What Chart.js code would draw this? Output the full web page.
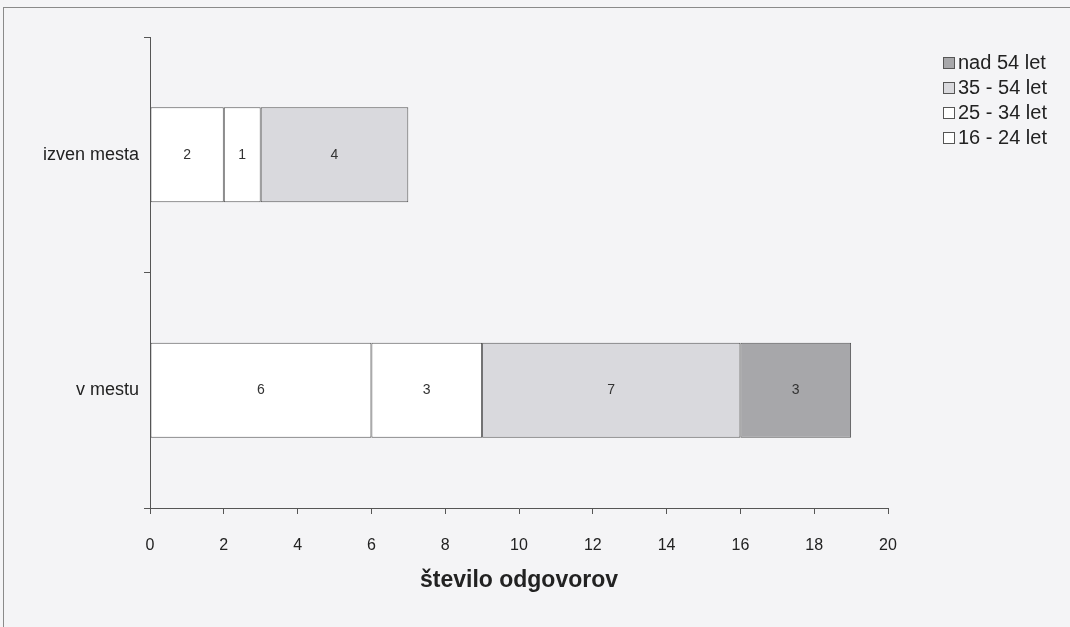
<!DOCTYPE html>
<html lang="sl">
<head>
    <meta charset="UTF-8">
    <title>število odgovorov</title>
    <script src="https://cdn.jsdelivr.net/npm/chart.js"></script>
    <style>
        body {
            margin: 0;
            padding: 0;
            background: #f4f4f6;
            font-family: Arial, "Liberation Sans", sans-serif;
        }
        .frame {
            position: absolute;
            left: 3px;
            top: 7px;
            width: 1067px;
            height: 620px;
            border-top: 1px solid #8a8a8a;
            border-left: 1px solid #8a8a8a;
        }
        .wrap {
            position: absolute;
            left: 0;
            top: 0;
            width: 1070px;
            height: 627px;
        }
    </style>
</head>
<body>
    <div class="frame"></div>
    <div class="wrap"><canvas id="chart" width="1070" height="627"></canvas></div>

    <script>
        // data
        const categories = ["izven mesta", "v mestu"];
        const ageGroups = ["16 - 24 let", "25 - 34 let", "35 - 54 let", "nad 54 let"];
        const age16to24 = [2, 6];
        const age25to34 = [1, 3];
        const age35to54 = [4, 7];
        const ageOver54 = [0, 3];
        const groupColors = ["#ffffff", "#ffffff", "#d9d9dd", "#a7a7aa"];
        const xTicks = [0, 2, 4, 6, 8, 10, 12, 14, 16, 18, 20];

        const seriesValues = [age16to24, age25to34, age35to54, ageOver54];

        // numbers inside each segment
        const barLabels = {
            id: "barLabels",
            afterDatasetsDraw(chart) {
                const ctx = chart.ctx;
                ctx.save();
                ctx.font = "14px Arial";
                ctx.fillStyle = "#333";
                ctx.textAlign = "center";
                ctx.textBaseline = "middle";
                chart.data.datasets.forEach((ds, i) => {
                    chart.getDatasetMeta(i).data.forEach((bar, j) => {
                        const v = ds.data[j];
                        if (!v) return;
                        const c = bar.getCenterPoint();
                        ctx.fillText(String(v), c.x, c.y);
                    });
                });
                ctx.restore();
            }
        };

        // legend in the top right corner, reversed like the original
        const cornerLegend = {
            id: "cornerLegend",
            afterDraw(chart) {
                const ctx = chart.ctx;
                ctx.save();
                ctx.font = "20px Arial";
                ctx.textBaseline = "middle";
                const items = chart.data.datasets.slice().reverse();
                items.forEach((ds, k) => {
                    const y = 62 + k * 25;
                    ctx.fillStyle = ds.backgroundColor;
                    ctx.fillRect(943, y - 5, 11, 11);
                    ctx.strokeStyle = "#555";
                    ctx.lineWidth = 1;
                    ctx.strokeRect(943.5, y - 4.5, 11, 11);
                    ctx.fillStyle = "#222";
                    ctx.fillText(ds.label, 958, y + 1);
                });
                ctx.restore();
            }
        };

        new Chart(document.getElementById("chart").getContext("2d"), {
            type: "bar",
            data: {
                labels: categories,
                datasets: ageGroups.map((name, i) => ({
                    label: name,
                    data: seriesValues[i],
                    backgroundColor: groupColors[i],
                    borderColor: "#555",
                    borderWidth: 1,
                    borderSkipped: false,
                    categoryPercentage: 1,
                    barPercentage: 0.404
                }))
            },
            options: {
                indexAxis: "y",
                responsive: false,
                animation: false,
                layout: { padding: { top: 37, right: 182, left: 0, bottom: 0 } },
                plugins: {
                    legend: { display: false },
                    tooltip: { enabled: false }
                },
                scales: {
                    x: {
                        stacked: true,
                        min: 0,
                        max: 20,
                        afterBuildTicks: (scale) => {
                            scale.ticks = xTicks.map(v => ({ value: v }));
                        },
                        afterFit: (scale) => { scale.height = 119; },
                        grid: {
                            drawOnChartArea: false,
                            tickLength: 6,
                            color: "#555"
                        },
                        border: { color: "#555", width: 1 },
                        ticks: {
                            padding: 22,
                            color: "#222",
                            font: { family: "Arial", size: 16 }
                        },
                        title: {
                            display: true,
                            text: "število odgovorov",
                            color: "#222",
                            font: { family: "Arial", size: 23, weight: "bold" },
                            padding: { top: 4, bottom: 33 }
                        }
                    },
                    y: {
                        stacked: true,
                        afterFit: (scale) => { scale.width = 150; },
                        grid: {
                            drawOnChartArea: false,
                            offset: true,
                            tickLength: 6,
                            color: "#555"
                        },
                        border: { color: "#555", width: 1 },
                        ticks: {
                            padding: 5,
                            color: "#222",
                            font: { family: "Arial", size: 18 }
                        }
                    }
                }
            },
            plugins: [barLabels, cornerLegend]
        });
    </script>
</body>
</html>
